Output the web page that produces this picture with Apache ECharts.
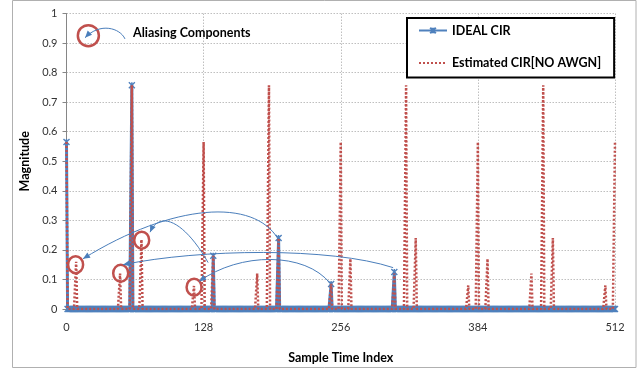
<!DOCTYPE html>
<html>
<head>
<meta charset="utf-8">
<script src="https://cdn.jsdelivr.net/npm/echarts@6/dist/echarts.min.js"></script>
<style>
html, body { margin: 0; padding: 0; background: #fff; }
#chart { width: 639px; height: 369px; }
</style>
</head>
<body>
<div id="chart"></div>
<script>
// sample index range
const sampleMax = 512;
const xStep = 128;
const yLabels = ["0", "0.1", "0.2", "0.3", "0.4", "0.5", "0.6", "0.7", "0.8", "0.9", "1"];

// ideal channel taps
const idealIdx = [0, 61, 137, 198, 247, 306];
const idealMag = [0.565, 0.757, 0.18, 0.24, 0.085, 0.125];

// estimated CIR taps (no AWGN), everything else is 0
const estIdx = [0, 9, 50, 61, 70, 119, 128, 137, 178, 189, 198, 247, 256, 265, 306, 317, 326, 375, 384, 393, 434, 445, 454, 503, 512];
const estMag = [0.565, 0.16, 0.12, 0.757, 0.235, 0.078, 0.565, 0.18, 0.12, 0.757, 0.24, 0.085, 0.565, 0.17, 0.12, 0.757, 0.24, 0.08, 0.565, 0.17, 0.12, 0.757, 0.24, 0.08, 0.565];

// annotation: red circles round the aliasing components [x, y]
const aliasCircles = [[8.5, 0.15], [50.6, 0.121], [70.2, 0.233], [119.1, 0.074]];
const noteCircle = [20.4, 0.925];
// annotation arrows: start, cp1, cp2, end (data coords)
const arrows = [
  [[197.5, 0.237], [175.0, 0.375], [100.0, 0.360], [15.4, 0.170]],
  [[132.2, 0.157], [110.7, 0.294], [87.3, 0.337], [78.0, 0.260]],
  [[304.9, 0.140], [246.1, 0.210], [124.7, 0.2035], [52.8, 0.150]],
  [[246.1, 0.0868], [222.7, 0.1935], [162.0, 0.1935], [123.8, 0.0934]],
  [[54.6, 0.914], [50.0, 0.951], [31.3, 0.971], [17.3, 0.918]]
];

function toSeries(idx, mag) {
  const out = [];
  for (let i = 0; i <= sampleMax; i++) out.push([i, 0]);
  idx.forEach((k, j) => { out[k][1] = mag[j]; });
  return out;
}

const blue = "#4f81bd";
const red = "#c0504d";
const font = "Lato";
const asterisk = "path://M0,0L10,10M10,0L0,10M5,0L5,10";

const chart = echarts.init(document.getElementById("chart"));

const option = {
  animation: false,
  backgroundColor: "#fff",
  grid: { left: 66.5, right: 24, top: 13.5, bottom: 56 },
  legend: {
    orient: "vertical",
    left: 407,
    top: 18,
    padding: [6, 13, 8, 11],
    itemGap: 19.5,
    itemWidth: 28,
    itemHeight: 7,
    borderColor: "#000",
    borderWidth: 2,
    backgroundColor: "#fff",
    textStyle: { fontFamily: font, fontWeight: "bold", fontSize: 12.5, color: "#000" },
    data: [
      { name: "IDEAL CIR" },
      { name: "Estimated CIR[NO AWGN]", itemStyle: { opacity: 0 } }
    ]
  },
  xAxis: {
    type: "value",
    min: 0,
    max: sampleMax,
    interval: xStep,
    name: "Sample Time Index",
    nameLocation: "middle",
    nameGap: 42,
    nameTextStyle: { fontFamily: font, fontWeight: "bold", fontSize: 12.5, color: "#000" },
    axisLine: { show: false },
    axisTick: { show: false },
    axisLabel: { margin: 13, fontFamily: font, fontSize: 11, color: "#333" },
    splitLine: { lineStyle: { color: "#bfbfbf", type: [1.5, 1.5] } }
  },
  yAxis: {
    type: "value",
    min: 0,
    max: 1,
    interval: 0.1,
    name: "Magnitude",
    nameLocation: "middle",
    nameGap: 33,
    nameTextStyle: { fontFamily: font, fontWeight: "bold", fontSize: 12.5, color: "#000" },
    axisLine: { show: true, lineStyle: { color: "#868686" } },
    axisTick: { show: true, length: 4, lineStyle: { color: "#868686" } },
    axisLabel: {
      margin: 9,
      fontFamily: font,
      fontSize: 11,
      color: "#333",
      formatter: (v) => yLabels[Math.round(v * 10)]
    },
    splitLine: { lineStyle: { color: "#bfbfbf", type: [1.5, 1.5] } }
  },
  series: [
    {
      name: "IDEAL CIR",
      type: "line",
      data: toSeries(idealIdx, idealMag),
      symbol: asterisk,
      symbolSize: 6,
      showAllSymbol: true,
      lineStyle: { color: blue, width: 3 },
      itemStyle: { color: blue, borderColor: blue, borderWidth: 1.4 },
      z: 2
    },
    {
      name: "Estimated CIR[NO AWGN]",
      type: "line",
      data: toSeries(estIdx, estMag),
      symbol: "none",
      lineStyle: { color: red, width: 2.5, type: [2, 2] },
      itemStyle: { color: red },
      z: 3
    }
  ]
};

chart.setOption(option);

// annotations, placed through the grid's own scale
const px = (p) => chart.convertToPixel({ gridIndex: 0 }, p);
const graphics = [];

graphics.push({
  type: "rect",
  shape: { x: 12.5, y: 0.5, width: 623.5, height: 367 },
  style: { fill: null, stroke: "#b0b0b0", lineWidth: 1 },
  z: -1
});

aliasCircles.forEach((c) => {
  const p = px(c);
  graphics.push({
    type: "ellipse",
    shape: { cx: p[0], cy: p[1], rx: 7.5, ry: 8.5 },
    style: { fill: null, stroke: red, lineWidth: 2.5 },
    z: 100
  });
});

const nc = px(noteCircle);
graphics.push({
  type: "circle",
  shape: { cx: nc[0], cy: nc[1], r: 10.5 },
  style: { fill: null, stroke: red, lineWidth: 2.5 },
  z: 100
});

arrows.forEach((a) => {
  const [p0, c1, c2, p3] = a.map(px);
  graphics.push({
    type: "bezierCurve",
    shape: { x1: p0[0], y1: p0[1], cpx1: c1[0], cpy1: c1[1], cpx2: c2[0], cpy2: c2[1], x2: p3[0], y2: p3[1] },
    style: { fill: null, stroke: "#4a7ebb", lineWidth: 1 },
    z: 101
  });
  // arrow head along the end tangent
  let dx = p3[0] - c2[0], dy = p3[1] - c2[1];
  const len = Math.sqrt(dx * dx + dy * dy);
  dx /= len; dy /= len;
  const L = 7, W = 3;
  graphics.push({
    type: "polygon",
    shape: {
      points: [
        [p3[0], p3[1]],
        [p3[0] - dx * L - dy * W, p3[1] - dy * L + dx * W],
        [p3[0] - dx * L + dy * W, p3[1] - dy * L - dx * W]
      ]
    },
    style: { fill: "#4a7ebb" },
    z: 101
  });
});

graphics.push({
  type: "text",
  left: 133,
  top: 26,
  style: { text: "Aliasing Components", font: "bold 12.5px Lato", fill: "#000" },
  z: 100
});

chart.setOption({ graphic: graphics });
</script>
</body>
</html>
